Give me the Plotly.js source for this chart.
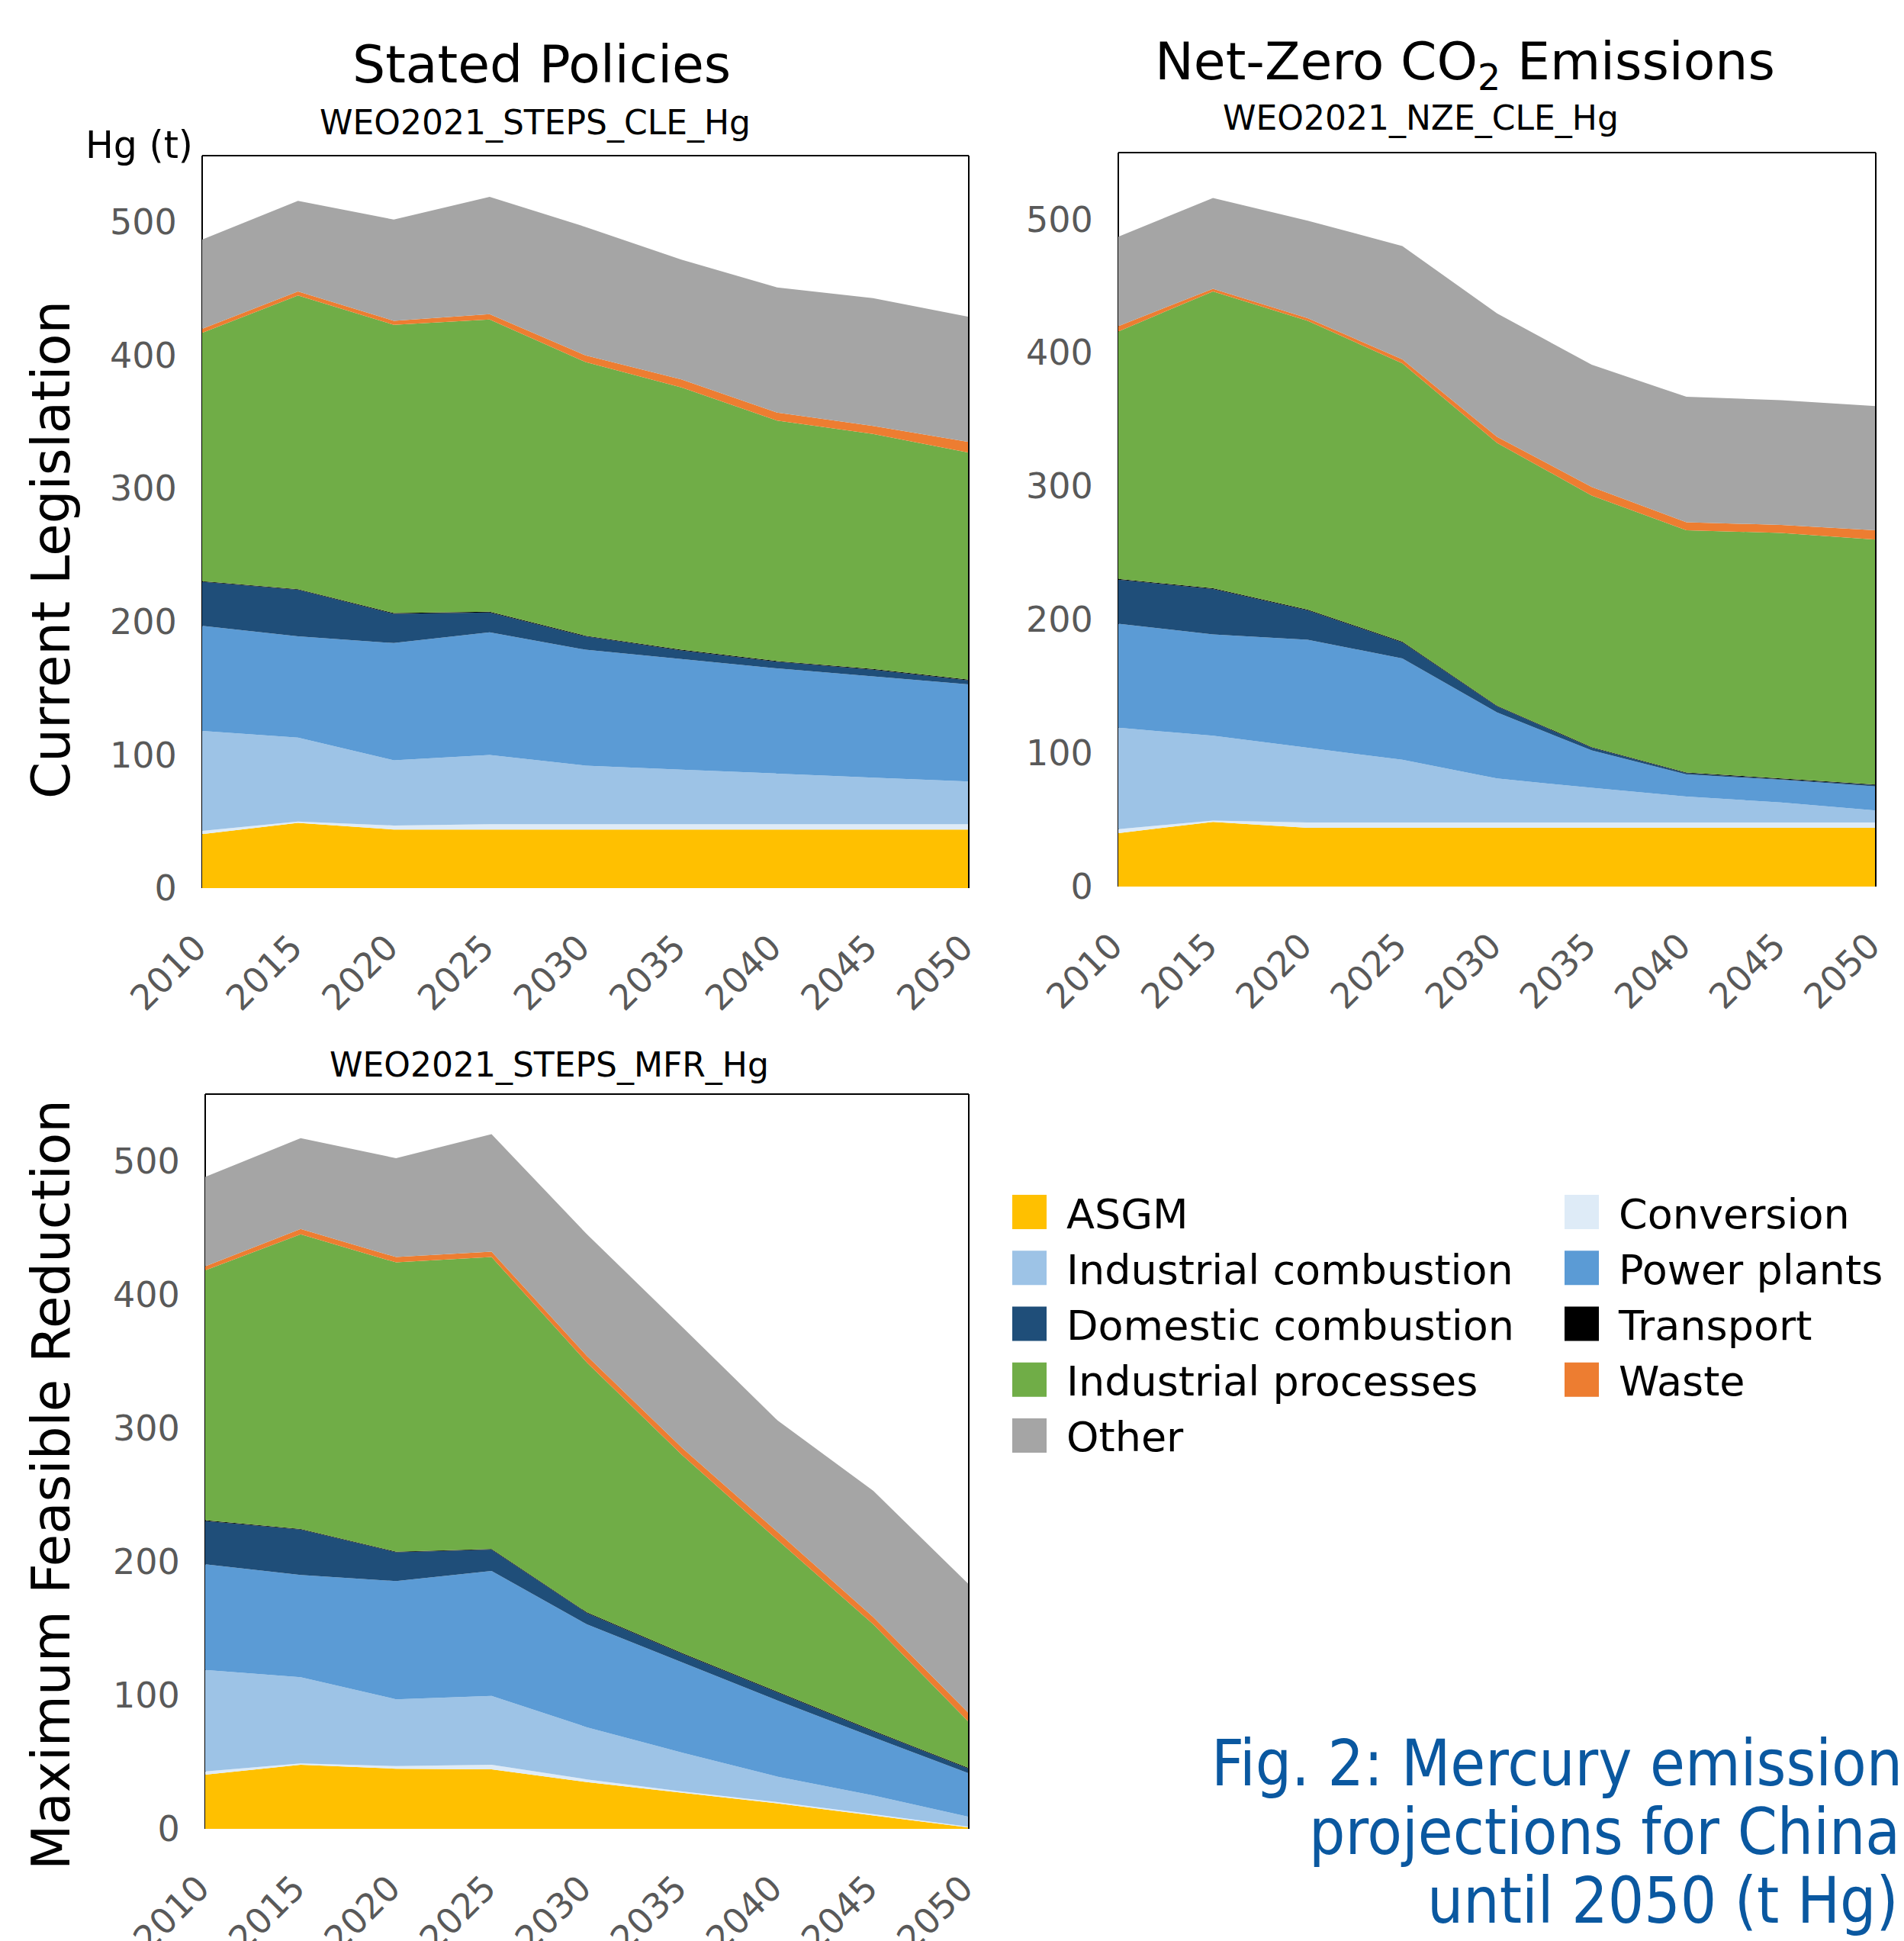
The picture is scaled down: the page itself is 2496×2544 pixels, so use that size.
<!DOCTYPE html>
<html><head><meta charset="utf-8">
<script src="https://cdn.plot.ly/plotly-3.0.1.min.js"></script>
<style>html,body{margin:0;padding:0;background:#fff}</style>
</head><body><div id="chart" style="width:2496px;height:2544px"></div>
<script>
// ---------- data (t Hg) ----------
const years = [2010, 2015, 2020, 2025, 2030, 2035, 2040, 2045, 2050];
const seriesNames = ['ASGM', 'Conversion', 'Industrial combustion', 'Power plants',
  'Domestic combustion', 'Transport', 'Industrial processes', 'Waste', 'Other'];
const seriesColors = ['#FFC000', '#DEEBF7', '#9DC3E6', '#5B9BD5', '#1F4E79',
  '#000000', '#70AD47', '#ED7D31', '#A5A5A5'];

// WEO2021_STEPS_CLE_Hg
const asgm_cle    = [40.5, 49, 44, 44, 44, 44, 44, 44, 44];
const conv_cle    = [2.5, 1, 3, 4, 4, 4, 4, 4, 4];
const indcomb_cle = [75, 63, 49, 52, 44, 41, 38, 35, 32];
const power_cle   = [79, 76, 88, 92, 87, 83, 79, 76, 73];
const dom_cle     = [33, 35, 22, 15, 10, 6.5, 5, 5, 3];
const trans_cle   = [0.5, 0.5, 0.5, 0.5, 0.5, 0.5, 0.5, 0.5, 0.5];
const indproc_cle = [186.5, 220.5, 216.5, 219.5, 205.5, 197, 180.5, 176.5, 170.5];
const waste_cle   = [3, 3, 3, 4, 5, 6, 6, 6, 8];
const other_cle   = [67, 68, 76, 88, 96.5, 90, 94, 96, 94];

// WEO2021_NZE_CLE_Hg
const asgm_nze    = [40, 48.5, 44, 44, 44, 44, 44, 44, 44];
const conv_nze    = [3, 1, 4, 4, 4, 4, 4, 4, 4];
const indcomb_nze = [76, 63.5, 56, 47, 33, 26, 19.5, 15, 9];
const power_nze   = [78, 76, 81, 76, 49.5, 28, 16.5, 17, 18];
const dom_nze     = [33, 34, 22, 12, 4.5, 2, 1, 0.5, 1];
const trans_nze   = [0.5, 0.5, 0.5, 0.5, 0.5, 0.5, 0.5, 0.5, 0.5];
const indproc_nze = [185.5, 222.5, 216.5, 208.5, 197, 188.5, 181.5, 184, 183.5];
const waste_nze   = [4, 2, 2, 3, 4.5, 6.5, 6, 6, 7];
const other_nze   = [67, 68, 73, 85, 92.5, 91.5, 94, 93.5, 93];

// WEO2021_STEPS_MFR_Hg
const asgm_mfr    = [40.6, 48, 45, 44.5, 35, 27, 19, 10, 1];
const conv_mfr    = [2.4, 1, 2, 3.5, 2, 1, 1, 1, 0.5];
const indcomb_mfr = [76, 64.5, 50, 51.5, 39, 29, 19, 14, 7.5];
const power_mfr   = [79, 76.5, 88.5, 93.5, 77, 67.5, 57, 43.5, 32.5];
const dom_mfr     = [32.5, 34, 21.5, 16, 8.5, 6.5, 6, 4.5, 3.5];
const trans_mfr   = [0.5, 0.5, 0.5, 0.5, 0.5, 0.5, 0.5, 0.5, 0.5];
const indproc_mfr = [187, 220.5, 216.5, 218.5, 187, 148, 113.5, 79.5, 34.5];
const waste_mfr   = [3, 4, 4, 4, 5, 5.5, 6, 5.5, 6.5];
const other_mfr   = [67, 68, 74, 88, 91, 90.5, 83.5, 94.5, 96.5];

const yTickVals = [0, 100, 200, 300, 400, 500];
const xTickVals = [2010, 2015, 2020, 2025, 2030, 2035, 2040, 2045, 2050];

// ---------- build ----------
const W = 2496, H = 2544;
const px = v => v / W;
const py = v => 1 - v / H;
const legendCols = ['c1', 'c2', 'c1', 'c2', 'c1', 'c2', 'c1', 'c2', 'c1'];

const panels = [
  {s: '', data: [asgm_cle, conv_cle, indcomb_cle, power_cle, dom_cle, trans_cle, indproc_cle, waste_cle, other_cle], legend: true},
  {s: '2', data: [asgm_nze, conv_nze, indcomb_nze, power_nze, dom_nze, trans_nze, indproc_nze, waste_nze, other_nze], legend: false},
  {s: '3', data: [asgm_mfr, conv_mfr, indcomb_mfr, power_mfr, dom_mfr, trans_mfr, indproc_mfr, waste_mfr, other_mfr], legend: false}
];

const traces = [];
panels.forEach((p, pi) => {
  p.data.forEach((vals, i) => {
    traces.push({
      type: 'scatter', x: years, y: vals, name: seriesNames[i],
      xaxis: 'x' + p.s, yaxis: 'y' + p.s,
      stackgroup: 'g' + pi, mode: 'none',
      line: {width: 0}, fillcolor: seriesColors[i],
      legendgroup: legendCols[i], showlegend: p.legend,
      hoverinfo: 'x+y+name'
    });
  });
});

const tickFont = {family: 'DejaVu Sans', size: 46, color: '#595959'};
function xax(domain, anchor) {
  return {domain: domain, anchor: anchor, range: [2010, 2050], tickvals: xTickVals,
    tickangle: -45, showgrid: false, zeroline: false, showline: false,
    ticks: 'outside', ticklen: 31, tickcolor: 'rgba(0,0,0,0)', ticklabelshift: -8,
    tickfont: tickFont, fixedrange: true};
}
function yax(domain, anchor) {
  return {domain: domain, anchor: anchor, range: [0, 550], tickvals: yTickVals,
    showgrid: false, zeroline: false, showline: false,
    ticks: 'outside', ticklen: 23, tickcolor: 'rgba(0,0,0,0)', tickfont: tickFont, fixedrange: true};
}

const frames = [];
['', '2', '3'].forEach(s => {
  const xr = 'x' + s + ' domain', yr = 'y' + s + ' domain';
  const ln = {color: '#000', width: 2};
  frames.push({type: 'line', xref: xr, yref: yr, x0: 0, x1: 1, y0: 1, y1: 1, line: ln, layer: 'above'});
  frames.push({type: 'line', xref: xr, yref: yr, x0: 0, x1: 0, y0: 0, y1: 1, line: ln, layer: 'below'});
  frames.push({type: 'line', xref: xr, yref: yr, x0: 1, x1: 1, y0: 0, y1: 1, line: ln, layer: 'above'});
});

function ann(text, x, y, size, opts) {
  return Object.assign({text: text, xref: 'paper', yref: 'paper', x: px(x), y: py(y),
    xanchor: 'center', yanchor: 'middle', showarrow: false,
    font: {family: 'DejaVu Sans', size: size, color: '#000'}}, opts || {});
}
const capFont = {family: 'DejaVu Sans Condensed, DejaVu Sans', size: 83, color: '#0A58A0'};

const annotations = [
  ann('Stated Policies', 710, 84.5, 68),
  ann('WEO2021_STEPS_CLE_Hg', 701, 161, 44),
  ann('Net-Zero CO<sub>2</sub> Emissions', 1920, 84.5, 68),
  ann('WEO2021_NZE_CLE_Hg', 1862, 155, 44),
  ann('WEO2021_STEPS_MFR_Hg', 720, 1396, 44),
  ann('Hg (t)', 255, 190, 49, {xanchor: 'right'}),
  ann('Current Legislation', 67, 721, 69, {textangle: -90}),
  ann('Maximum Feasible Reduction', 67, 1946, 69, {textangle: -90}),
  ann('Fig. 2: Mercury emissions', 1586, 2311, 83, {xanchor: 'left', font: capFont}),
  ann('projections for China', 1714, 2401, 83, {xanchor: 'left', font: capFont}),
  ann('until 2050 (t Hg)', 1869, 2491, 83, {xanchor: 'left', font: capFont})
];

const layout = {
  width: W, height: H,
  margin: {l: 0, r: 0, t: 0, b: 0, pad: 0, autoexpand: false},
  paper_bgcolor: '#ffffff', plot_bgcolor: 'rgba(0,0,0,0)',
  font: {family: 'DejaVu Sans', color: '#000'},
  xaxis: xax([px(265), px(1270)], 'y'),
  yaxis: yax([py(1164), py(204)], 'x'),
  xaxis2: xax([px(1466), px(2459)], 'y2'),
  yaxis2: yax([py(1162), py(200)], 'x2'),
  xaxis3: xax([px(269), px(1270)], 'y3'),
  yaxis3: yax([py(2397), py(1434)], 'x3'),
  showlegend: true,
  legend: {orientation: 'h', x: px(1322), xanchor: 'left', y: py(1547), yanchor: 'top',
    traceorder: 'grouped', tracegroupgap: 0, itemwidth: 66, entrywidth: 643, entrywidthmode: 'pixels',
    font: {family: 'DejaVu Sans', size: 54, color: '#000'},
    bgcolor: 'rgba(0,0,0,0)', borderwidth: 0},
  shapes: frames,
  annotations: annotations
};

Plotly.newPlot('chart', traces, layout, {staticPlot: true, displayModeBar: false}).then(gd => {
  // square colour swatches like the original legend
  gd.querySelectorAll('.legend .legendfill path').forEach(p => {
    p.setAttribute('d', 'M5,-22.5h45v45h-45z');
  });
});
</script>
</body></html>
